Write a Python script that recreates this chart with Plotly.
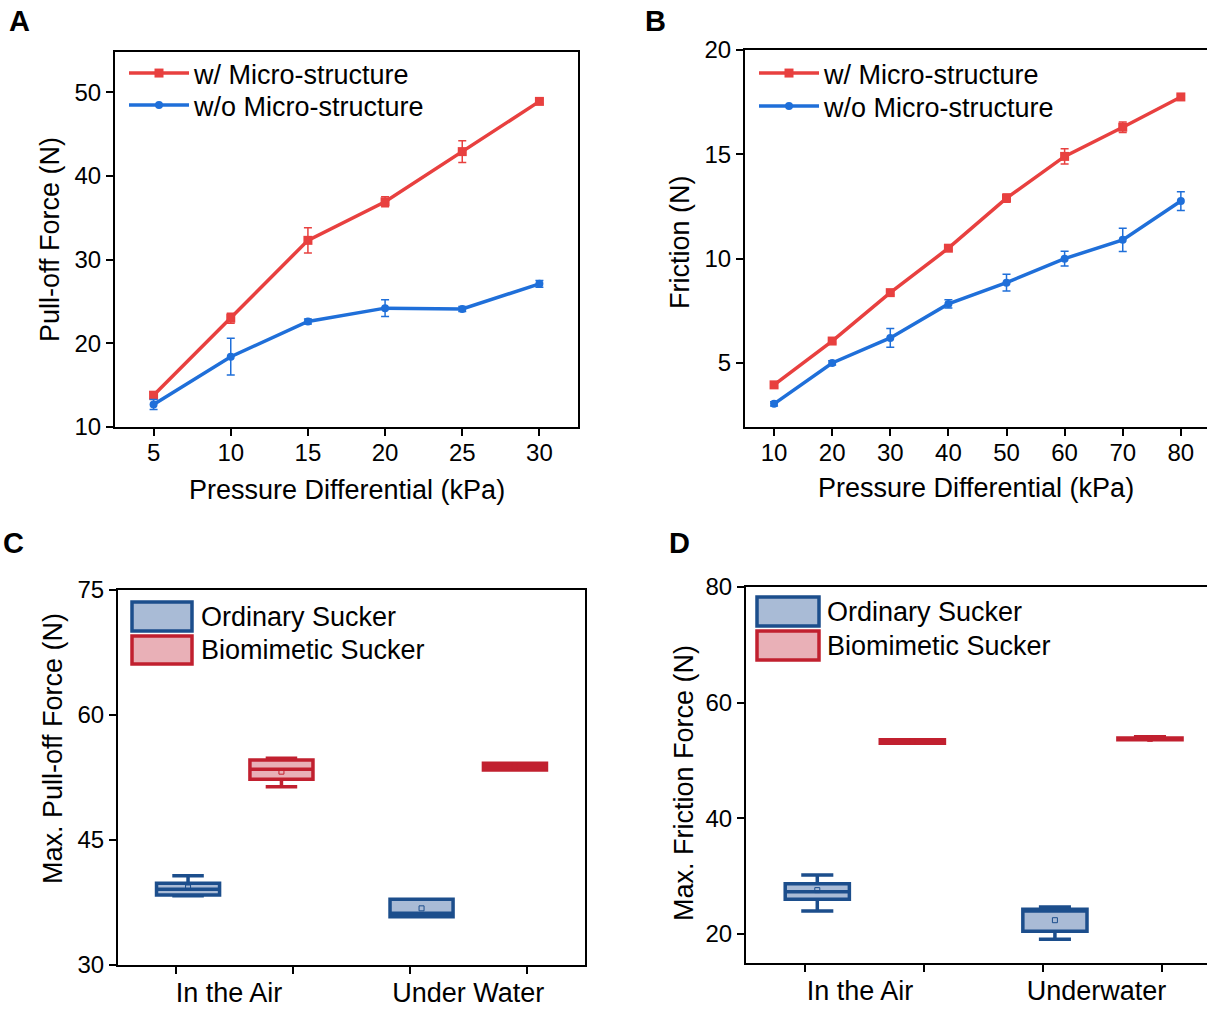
import plotly.graph_objects as go

# ---------------- data ----------------
# Panel A
pa_x = [5, 10, 15, 20, 25, 30]
pa_with = [13.8, 23.0, 32.3, 36.9, 42.9, 48.9]
pa_with_err = [0.4, 0.6, 1.5, 0.6, 1.3, 0.3]
pa_without = [12.7, 18.4, 22.6, 24.2, 24.1, 27.1]
pa_without_err = [0.6, 2.2, 0.3, 1.0, 0.3, 0.4]

# Panel B
pb_x = [10, 20, 30, 40, 50, 60, 70, 80]
pb_with = [3.95, 6.05, 8.37, 10.5, 12.9, 14.9, 16.3, 17.75]
pb_with_err = [0.1, 0.1, 0.1, 0.1, 0.2, 0.37, 0.25, 0.1]
pb_without = [3.04, 5.0, 6.2, 7.83, 8.85, 10.0, 10.9, 12.76]
pb_without_err = [0.1, 0.1, 0.45, 0.2, 0.4, 0.35, 0.56, 0.45]

series_names = ["w/ Micro-structure", "w/o Micro-structure"]

# Panel C (box statistics): Ordinary / Biomimetic, in air / under water
pc_cats = ["In the Air", "Under Water"]
pc_ord_q1 = [38.4, 35.8]
pc_ord_med = [39.1, 36.2]
pc_ord_q3 = [39.8, 37.9]
pc_ord_lo = [38.3, 35.8]
pc_ord_hi = [40.7, 37.9]
pc_ord_mean = [39.3, 36.8]
pc_bio_q1 = [52.3, 53.4]
pc_bio_med = [53.5, 53.8]
pc_bio_q3 = [54.6, 54.2]
pc_bio_lo = [51.4, 53.4]
pc_bio_hi = [54.8, 54.2]
pc_bio_mean = [53.2, 53.8]

# Panel D
pd_cats = ["In the Air", "Underwater"]
pd_ord_q1 = [26.0, 20.5]
pd_ord_med = [27.3, 24.0]
pd_ord_q3 = [28.7, 24.3]
pd_ord_lo = [24.0, 19.1]
pd_ord_hi = [30.2, 24.7]
pd_ord_mean = [27.6, 22.4]
pd_bio_q1 = [53.0, 53.6]
pd_bio_med = [53.3, 53.75]
pd_bio_q3 = [53.6, 53.9]
pd_bio_lo = [53.0, 53.6]
pd_bio_hi = [53.6, 54.1]
pd_bio_mean = [53.3, 53.75]

box_names = ["Ordinary Sucker", "Biomimetic Sucker"]

# ---------------- styles ----------------
W, H = 1207, 1009
RED = "#e8403f"
BLUE = "#1f6fd9"
BOX_BLUE = "#1c4e8c"
BOX_BLUE_FILL = "#a9bbd6"
BOX_RED = "#c1202f"
BOX_RED_FILL = "#e9b0b7"
FONT = "Liberation Sans, Arial, sans-serif"
TICK_SIZE = 24
TEXT_SIZE = 27

ORD_POS = [0.6, 2.6]
BIO_POS = [1.4, 3.4]
BOX_W = 0.54


def px(xp):
    return xp / W


def py(yp):
    return 1 - yp / H


fig = go.Figure()


def add_line(x, y, err, name, color, symbol, size, xa, ya, leg):
    fig.add_trace(go.Scatter(
        x=x, y=y, name=name, mode="lines+markers",
        line=dict(color=color, width=3.5), marker=dict(symbol=symbol, size=size, color=color),
        error_y=dict(type="data", array=err, color=color, thickness=1.5, width=4),
        xaxis=xa, yaxis=ya, legend=leg))


# ---------------- Panel A ----------------
add_line(pa_x, pa_with, pa_with_err, series_names[0], RED, "square", 9, "x", "y", "legend")
add_line(pa_x, pa_without, pa_without_err, series_names[1], BLUE, "circle", 8, "x", "y", "legend3")

# ---------------- Panel B ----------------
add_line(pb_x, pb_with, pb_with_err, series_names[0], RED, "square", 9, "x2", "y2", "legend2")
add_line(pb_x, pb_without, pb_without_err, series_names[1], BLUE, "circle", 8, "x2", "y2", "legend4")


# ---------------- Box panels ----------------
def add_boxes(xa, ya, q1, med, q3, lo, hi, mean, pos, color, fill, name):
    fig.add_trace(go.Box(
        x=pos, q1=q1, median=med, q3=q3, lowerfence=lo, upperfence=hi,
        width=BOX_W, whiskerwidth=0.5, fillcolor=fill,
        line=dict(color=color, width=3.5), name=name, showlegend=False,
        boxpoints=False, xaxis=xa, yaxis=ya))
    fig.add_trace(go.Scatter(
        x=pos, y=mean, mode="markers", showlegend=False,
        marker=dict(symbol="square-open", size=5, color=color, line=dict(width=1)),
        xaxis=xa, yaxis=ya))


add_boxes("x3", "y3", pc_ord_q1, pc_ord_med, pc_ord_q3, pc_ord_lo, pc_ord_hi, pc_ord_mean,
          ORD_POS, BOX_BLUE, BOX_BLUE_FILL, box_names[0])
add_boxes("x3", "y3", pc_bio_q1, pc_bio_med, pc_bio_q3, pc_bio_lo, pc_bio_hi, pc_bio_mean,
          BIO_POS, BOX_RED, BOX_RED_FILL, box_names[1])
add_boxes("x4", "y4", pd_ord_q1, pd_ord_med, pd_ord_q3, pd_ord_lo, pd_ord_hi, pd_ord_mean,
          ORD_POS, BOX_BLUE, BOX_BLUE_FILL, box_names[0])
add_boxes("x4", "y4", pd_bio_q1, pd_bio_med, pd_bio_q3, pd_bio_lo, pd_bio_hi, pd_bio_mean,
          BIO_POS, BOX_RED, BOX_RED_FILL, box_names[1])

# ---------------- axes ----------------
tickfont = dict(family=FONT, size=TICK_SIZE, color="black")
textfont = dict(family=FONT, size=TEXT_SIZE, color="black")

common = dict(showline=True, linecolor="black", linewidth=2, ticks="outside",
              ticklen=7, tickwidth=2, tickcolor="black", showgrid=False,
              zeroline=False, tickfont=tickfont, automargin=False)

cat_axis = dict(showline=True, linecolor="black", linewidth=2, ticks="",
                showgrid=False, zeroline=False, tickfont=textfont, automargin=False,
                ticklabelstandoff=3,
                minor=dict(tickvals=[0.5, 1.5, 2.5, 3.5], ticks="outside", ticklen=7,
                           tickwidth=2, tickcolor="black", showgrid=False))

fig.update_layout(
    xaxis=dict(domain=[px(115), px(578)], range=[2.5, 32.5], tickvals=pa_x,
               mirror=True, anchor="y", ticklabelstandoff=-4, **common),
    yaxis=dict(domain=[py(427), py(52)], range=[10, 54.8], tickvals=[10, 20, 30, 40, 50],
               mirror=True, anchor="x", **common),
    xaxis2=dict(domain=[px(745), 1.0], range=[5, 84.5], tickvals=pb_x,
                mirror=True, anchor="y2", ticklabelstandoff=-4, **common),
    yaxis2=dict(domain=[py(427), py(50)], range=[1.93, 20], tickvals=[5, 10, 15, 20],
                mirror=False, anchor="x2", **common),
    xaxis3=dict(domain=[px(118), px(585)], range=[0, 4], tickvals=[0.95, 3.0], ticktext=pc_cats,
                mirror=True, anchor="y3", **cat_axis),
    yaxis3=dict(domain=[py(965), py(590)], range=[30, 75], tickvals=[30, 45, 60, 75],
                mirror=True, anchor="x3", **common),
    xaxis4=dict(domain=[px(746), 1.0], range=[0, 3.88], tickvals=[0.96, 2.95], ticktext=pd_cats,
                mirror=True, anchor="y4", **cat_axis),
    yaxis4=dict(domain=[py(963), py(587)], range=[15, 80], tickvals=[20, 40, 60, 80],
                mirror=False, anchor="x4", **common),
)

legend_style = dict(font=textfont, bgcolor="rgba(0,0,0,0)",
                    xanchor="left", yanchor="top", tracegroupgap=0, itemwidth=60)
fig.update_layout(
    legend=dict(x=px(124), y=py(49), **legend_style),
    legend3=dict(x=px(124), y=py(81), **legend_style),
    legend2=dict(x=px(754), y=py(49), **legend_style),
    legend4=dict(x=px(754), y=py(82), **legend_style),
)

annots = []
# axis titles
for text, xx, yy, ang in [
        ("Pressure Differential (kPa)", 347, 490, 0),
        ("Pull-off Force (N)", 50, 240, -90),
        ("Pressure Differential (kPa)", 976, 488, 0),
        ("Friction (N)", 680, 242, -90),
        ("Max. Pull-off Force (N)", 53, 749, -90),
        ("Max. Friction Force (N)", 684, 783, -90)]:
    annots.append(dict(text=text, xref="paper", yref="paper", x=px(xx), y=py(yy),
                       xanchor="center", yanchor="middle", textangle=ang, showarrow=False,
                       font=textfont))

# manual legends for box panels
shapes = []
for (x0, x1, ya0, ya1, yb0, yb1, tx) in [
        (132, 192, 602, 631, 636, 664, 199),
        (757, 819, 597, 626, 631, 660, 825)]:
    shapes.append(dict(type="rect", xref="paper", yref="paper", x0=px(x0), x1=px(x1),
                       y0=py(ya1), y1=py(ya0), fillcolor=BOX_BLUE_FILL,
                       line=dict(color=BOX_BLUE, width=3.5), layer="above"))
    shapes.append(dict(type="rect", xref="paper", yref="paper", x0=px(x0), x1=px(x1),
                       y0=py(yb1), y1=py(yb0), fillcolor=BOX_RED_FILL,
                       line=dict(color=BOX_RED, width=3.5), layer="above"))
    annots.append(dict(text=box_names[0], xref="paper", yref="paper", x=px(tx),
                       y=py((ya0 + ya1) / 2), xanchor="left", yanchor="middle", showarrow=False,
                       font=textfont))
    annots.append(dict(text=box_names[1], xref="paper", yref="paper", x=px(tx),
                       y=py((yb0 + yb1) / 2), xanchor="left", yanchor="middle", showarrow=False,
                       font=textfont))

for letter, xx, yy in [("A", 7, 21), ("B", 643, 21), ("C", 1, 543), ("D", 667, 543)]:
    annots.append(dict(text="<b>%s</b>" % letter, xref="paper", yref="paper", x=px(xx),
                       y=py(yy), xanchor="left", yanchor="middle", showarrow=False,
                       font=dict(family=FONT, size=29, color="black")))

fig.update_layout(
    shapes=shapes, annotations=annots,
    width=W, height=H, margin=dict(l=0, r=0, t=0, b=0, autoexpand=False),
    paper_bgcolor="white", plot_bgcolor="white",
    font=dict(family=FONT, color="black"),
    showlegend=True,
)

fig.write_html("out.html", config={"displayModeBar": False},
               post_script="document.body.style.margin='0';document.body.style.overflow='hidden';")
